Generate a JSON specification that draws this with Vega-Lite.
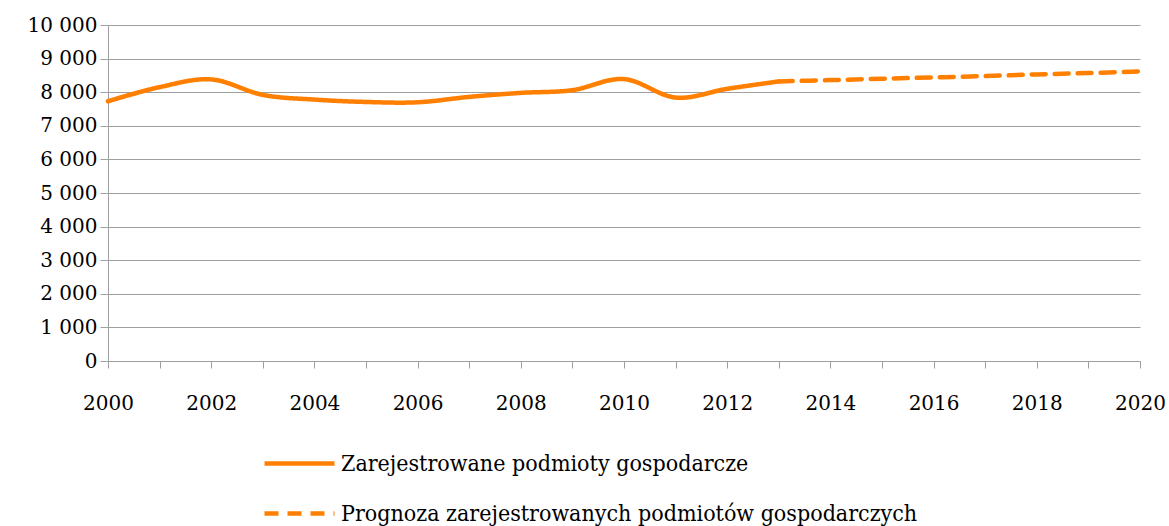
{
  "$schema": "https://vega.github.io/schema/vega-lite/v6.json",
  "width": 1032,
  "height": 336,
  "autosize": {"type": "none"},
  "padding": {"left": 108, "top": 25, "right": 29, "bottom": 165},
  "background": "white",
  "config": {
    "view": {"stroke": null}
  },
  "data": {
    "values": [
      {"year": 2000, "value": 7730, "series": "Zarejestrowane podmioty gospodarcze"},
      {"year": 2001, "value": 8150, "series": "Zarejestrowane podmioty gospodarcze"},
      {"year": 2002, "value": 8380, "series": "Zarejestrowane podmioty gospodarcze"},
      {"year": 2003, "value": 7920, "series": "Zarejestrowane podmioty gospodarcze"},
      {"year": 2004, "value": 7780, "series": "Zarejestrowane podmioty gospodarcze"},
      {"year": 2005, "value": 7710, "series": "Zarejestrowane podmioty gospodarcze"},
      {"year": 2006, "value": 7700, "series": "Zarejestrowane podmioty gospodarcze"},
      {"year": 2007, "value": 7860, "series": "Zarejestrowane podmioty gospodarcze"},
      {"year": 2008, "value": 7980, "series": "Zarejestrowane podmioty gospodarcze"},
      {"year": 2009, "value": 8060, "series": "Zarejestrowane podmioty gospodarcze"},
      {"year": 2010, "value": 8390, "series": "Zarejestrowane podmioty gospodarcze"},
      {"year": 2011, "value": 7840, "series": "Zarejestrowane podmioty gospodarcze"},
      {"year": 2012, "value": 8100, "series": "Zarejestrowane podmioty gospodarcze"},
      {"year": 2013, "value": 8320, "series": "Zarejestrowane podmioty gospodarcze"},
      {"year": 2013, "value": 8320, "series": "Prognoza zarejestrowanych podmiotów gospodarczych"},
      {"year": 2014, "value": 8360, "series": "Prognoza zarejestrowanych podmiotów gospodarczych"},
      {"year": 2015, "value": 8400, "series": "Prognoza zarejestrowanych podmiotów gospodarczych"},
      {"year": 2016, "value": 8440, "series": "Prognoza zarejestrowanych podmiotów gospodarczych"},
      {"year": 2017, "value": 8480, "series": "Prognoza zarejestrowanych podmiotów gospodarczych"},
      {"year": 2018, "value": 8530, "series": "Prognoza zarejestrowanych podmiotów gospodarczych"},
      {"year": 2019, "value": 8570, "series": "Prognoza zarejestrowanych podmiotów gospodarczych"},
      {"year": 2020, "value": 8620, "series": "Prognoza zarejestrowanych podmiotów gospodarczych"}
    ]
  },
  "mark": {"type": "line", "interpolate": "cardinal", "strokeWidth": 4.5, "strokeCap": "round", "clip": false},
  "encoding": {
    "x": {
      "field": "year",
      "type": "quantitative",
      "scale": {"domain": [2000, 2020], "nice": false, "zero": false},
      "axis": {
        "title": null,
        "values": [2000,2001,2002,2003,2004,2005,2006,2007,2008,2009,2010,2011,2012,2013,2014,2015,2016,2017,2018,2019,2020],
        "labelExpr": "datum.value % 2 == 0 ? format(datum.value, 'd') : ''",
        "grid": false,
        "domainColor": "#a0a0a0",
        "tickColor": "#a0a0a0",
        "tickSize": 7,
        "labelFontSize": 20,
        "labelColor": "black",
        "labelPadding": 25,
        "labelFont": "DejaVu Serif",
        "labelFlush": false
      }
    },
    "y": {
      "field": "value",
      "type": "quantitative",
      "scale": {"domain": [0, 10000], "nice": false},
      "axis": {
        "title": null,
        "values": [0,1000,2000,3000,4000,5000,6000,7000,8000,9000,10000],
        "labelExpr": "replace(format(datum.value, ',d'), ',', ' ')",
        "grid": true,
        "gridColor": "#a0a0a0",
        "gridWidth": 1,
        "domainColor": "#a0a0a0",
        "tickColor": "#a0a0a0",
        "tickSize": 8,
        "labelFontSize": 20,
        "labelColor": "black",
        "labelPadding": 3,
        "labelFont": "DejaVu Serif"
      }
    },
    "color": {
      "field": "series",
      "type": "nominal",
      "scale": {
        "domain": ["Zarejestrowane podmioty gospodarcze", "Prognoza zarejestrowanych podmiotów gospodarczych"],
        "range": ["#ff8000", "#ff8000"]
      },
      "legend": {
        "title": null,
        "orient": "none",
        "legendX": 154,
        "legendY": 401,
        "direction": "vertical",
        "symbolType": "stroke",
        "symbolSize": 4900,
        "symbolStrokeWidth": 4.5,
        "labelFontSize": 23,
        "labelFont": "DejaVu Serif Condensed",
        "labelColor": "black",
        "labelOffset": 4,
        "rowPadding": -27,
        "labelLimit": 1000
      }
    },
    "strokeDash": {
      "field": "series",
      "type": "nominal",
      "scale": {
        "domain": ["Zarejestrowane podmioty gospodarcze", "Prognoza zarejestrowanych podmiotów gospodarczych"],
        "range": [[1, 0], [14, 9]]
      },
      "legend": {
        "title": null,
        "orient": "none",
        "legendX": 154,
        "legendY": 401,
        "direction": "vertical",
        "symbolType": "stroke",
        "symbolSize": 4900,
        "symbolStrokeWidth": 4.5,
        "labelFontSize": 23,
        "labelFont": "DejaVu Serif Condensed",
        "labelColor": "black",
        "labelOffset": 4,
        "rowPadding": -27,
        "labelLimit": 1000
      }
    }
  }
}
